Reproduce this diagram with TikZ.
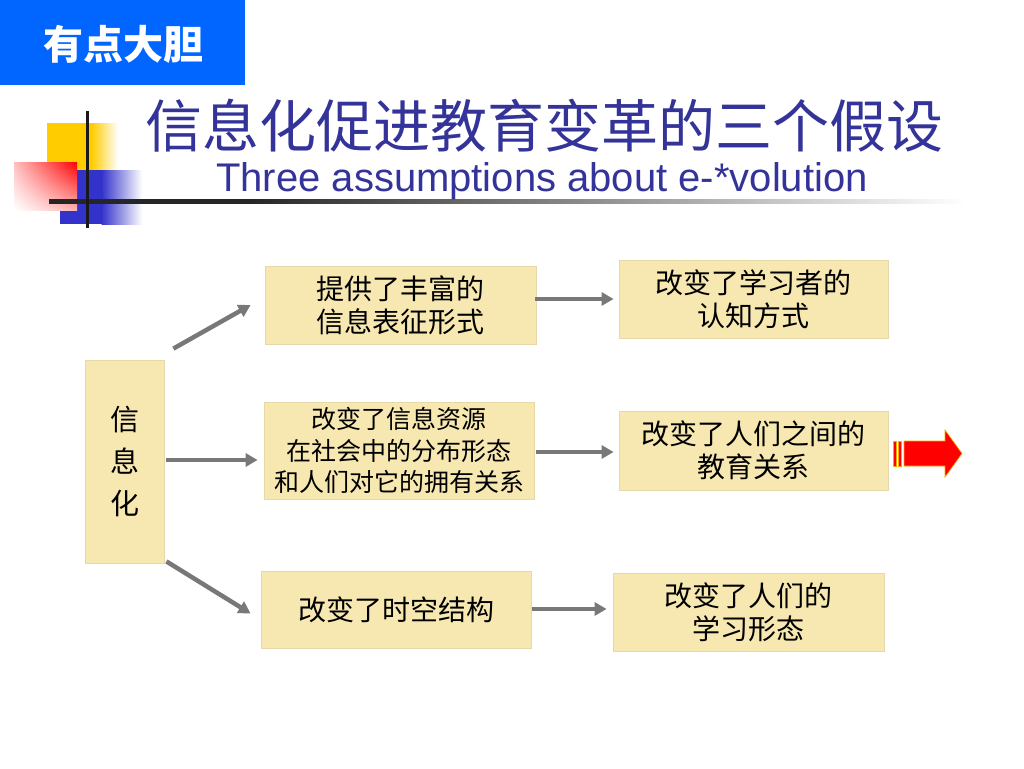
\documentclass[tikz,border=0pt]{standalone}
\usepackage{fontspec}
\setmainfont{Liberation Sans}
\newfontfamily\cjk{Noto Sans CJK SC}
\usetikzlibrary{arrows.meta,calc,shadings}
\definecolor{titleblue}{HTML}{333399}
\definecolor{tagblue}{HTML}{0066FF}
\definecolor{boxfill}{HTML}{F7E8B2}
\definecolor{boxline}{HTML}{E6D8A8}
\definecolor{arrgray}{HTML}{787878}
\definecolor{decoyellow}{HTML}{FFCC00}
\definecolor{decoblue}{HTML}{3333CC}
\tikzset{
  box/.style={draw=boxline, fill=boxfill, line width=0.8pt, inner sep=0pt, align=center, text=black},
  conn/.style={draw=arrgray, line width=4.5pt, -{Triangle[length=12pt,width=13pt]}},
}
\begin{document}
\begin{tikzpicture}[x=1pt,y=-1pt]
\useasboundingbox (0,0) rectangle (1024,768);
\fill[white] (0,0) rectangle (1024,768);
% tag
\fill[tagblue] (0,0) rectangle (245,85);
\node[text=white, font=\cjk\bfseries\fontsize{40}{42}\selectfont] (tag) at (123,44) {有点大胆};
% decoration
\fill[decoyellow] (47,123) rectangle (92,170);
\shade[left color=decoyellow, right color=white] (91.5,123) rectangle (118,170);
\fill[decoblue] (60,170) rectangle (102,224);
\shade[left color=decoblue, right color=white] (101.5,170) rectangle (142,224);
\shade[upper left=red!25, upper right=red, lower right=red!30, lower left=white] (14,162) rectangle (77,210);
\fill[black!85] (49,199) rectangle (250,203.5);
\shade[left color=black!85, right color=white] (249.5,199) rectangle (965,203.5);
\draw[black!90, line width=3pt] (87,111) -- (87,228);
% titles
\node[text=titleblue, font=\cjk\fontsize{57}{60}\selectfont] (title) at (544,126) {信息化促进教育变革的三个假设};
\node[text=titleblue, font=\fontsize{40}{42}\selectfont] (sub) at (542,181) {Three assumptions about e-*volution};
% boxes
\node[box, minimum width=79pt, minimum height=203pt, font=\cjk\fontsize{29}{42}\selectfont] (xin) at (124.5,461.5) {信\\息\\化};
\node[box, minimum width=271pt, minimum height=78pt, font=\cjk\fontsize{28}{33}\selectfont] (b1) at (400.5,305) {提供了丰富的\\信息表征形式};
\node[box, minimum width=270pt, minimum height=97pt, font=\cjk\fontsize{25}{31.5}\selectfont] (b2) at (399,450.5) {改变了信息资源\\在社会中的分布形态\\和人们对它的拥有关系};
\node[box, minimum width=270pt, minimum height=77pt, font=\cjk\fontsize{28}{33}\selectfont] (b3) at (396,609.5) {改变了时空结构};
\node[box, minimum width=269pt, minimum height=78pt, font=\cjk\fontsize{28}{33}\selectfont] (c1) at (753.5,299) {改变了学习者的\\认知方式};
\node[box, minimum width=269pt, minimum height=79pt, font=\cjk\fontsize{28}{33}\selectfont] (c2) at (753.5,450.5) {改变了人们之间的\\教育关系};
\node[box, minimum width=271pt, minimum height=78pt, font=\cjk\fontsize{28}{33}\selectfont] (c3) at (748.5,612) {改变了人们的\\学习形态};
% connectors
\draw[conn] ([shift={(9,-11)}]xin.north east) -- ([shift={(-14,0)}]b1.west);
\draw[conn] ([shift={(2,-1.5)}]xin.east) -- ([shift={(-6,9.5)}]b2.west);
\draw[conn] ([shift={(2,-2)}]xin.south east) -- ([shift={(-10,4)}]b3.west);
\draw[conn] ([shift={(-1,-6)}]b1.east) -- ([shift={(-5,0)}]c1.west);
\draw[conn] ([shift={(2,1.5)}]b2.east) -- ([shift={(-5,1.5)}]c2.west);
\draw[conn] ([shift={(1,-0.5)}]b3.east) -- ([shift={(-6,-3)}]c3.west);
% red block arrow
\begin{scope}[fill=red, draw=orange!70!yellow, line width=0.6pt]
\filldraw (893,441) rectangle (896,466);
\filldraw (898,441) rectangle (901,466);
\filldraw (904,441) -- (945,441) -- (945,430) -- (962,453.5) -- (945,477) -- (945,466) -- (904,466) -- cycle;
\end{scope}
\end{tikzpicture}
\end{document}
